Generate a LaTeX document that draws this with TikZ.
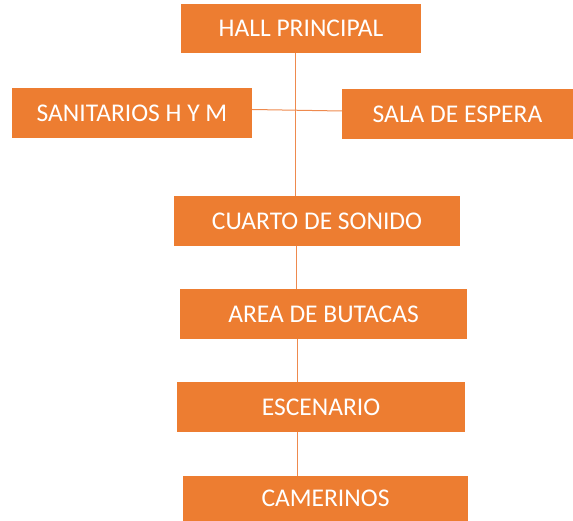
\documentclass[tikz,border=0pt]{standalone}
\usepackage{fontspec}
\setmainfont{Carlito}
\definecolor{boxorange}{HTML}{ED7D31}
\definecolor{lineorange}{HTML}{EE8A4E}
\begin{document}
\begin{tikzpicture}[x=1pt,y=-1pt,
  box/.style={fill=boxorange, draw=none, inner sep=0pt, text=white,
    font=\fontsize{25.5}{29}\selectfont},
  link/.style={draw=lineorange, line width=1pt}]
\useasboundingbox (0,0) rectangle (573,521);
\node[box, minimum width=240pt, minimum height=49pt] (hall) at (301,28.5) {HALL PRINCIPAL};
\node[box, minimum width=240pt, minimum height=50pt] (san) at (132,113) {SANITARIOS H Y M};
\node[box, minimum width=231pt, minimum height=50pt] (sala) at (457.5,114) {SALA DE ESPERA};
\node[box, minimum width=286pt, minimum height=50pt] (cuarto) at (317,221) {CUARTO DE SONIDO};
\node[box, minimum width=287pt, minimum height=50pt] (area) at (323.5,314) {AREA DE BUTACAS};
\node[box, minimum width=288pt, minimum height=50pt] (esc) at (321,407) {ESCENARIO};
\node[box, minimum width=285pt, minimum height=45pt] (cam) at (325.5,498.5) {CAMERINOS};
\coordinate (v1) at (295,0);
\coordinate (v2) at (296.5,0);
\coordinate (v3) at (297,0);
\draw[link] (hall.south -| v1) -- (cuarto.north -| v1);
\draw[link] ([yshift=3.5pt]san.east) -- ([yshift=3pt]sala.west);
\draw[link] (cuarto.south -| v2) -- (area.north -| v2);
\draw[link] (area.south -| v3) -- (esc.north -| v3);
\draw[link] (esc.south -| v3) -- (cam.north -| v3);
\end{tikzpicture}
\end{document}
